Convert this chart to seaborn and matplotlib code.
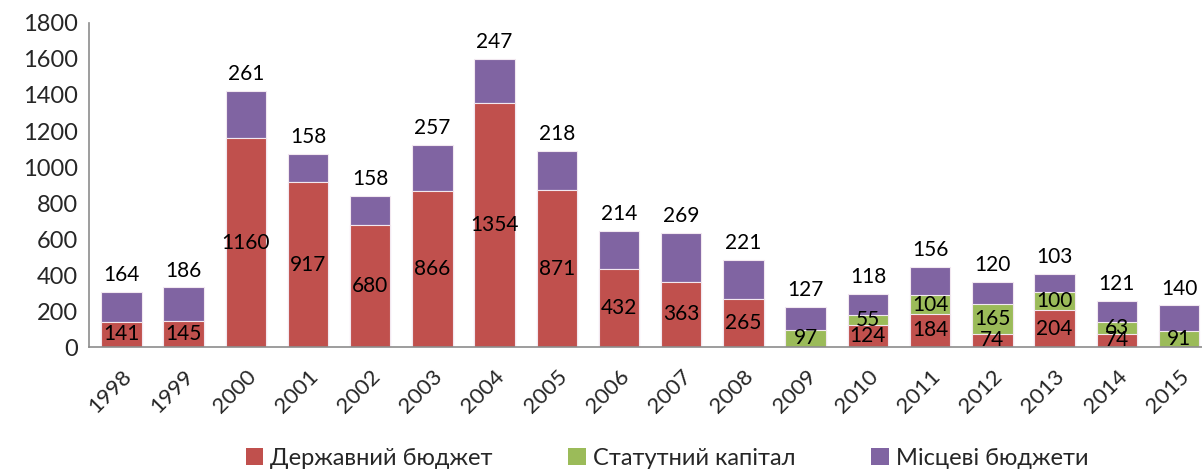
import matplotlib
matplotlib.use("Agg")
import matplotlib.pyplot as plt
import seaborn as sns
import pandas as pd
import numpy as np
from matplotlib.patches import Patch

years = ["1998", "1999", "2000", "2001", "2002", "2003", "2004", "2005", "2006",
         "2007", "2008", "2009", "2010", "2011", "2012", "2013", "2014", "2015"]
state_budget = [141, 145, 1160, 917, 680, 866, 1354, 871, 432, 363, 265, 0, 124, 184, 74, 204, 74, 0]
statutory_capital = [0, 0, 0, 0, 0, 0, 0, 0, 0, 0, 0, 97, 55, 104, 165, 100, 63, 91]
local_budgets = [164, 186, 261, 158, 158, 257, 247, 218, 214, 269, 221, 127, 118, 156, 120, 103, 121, 140]
series_names = ["Державний бюджет", "Статутний капітал", "Місцеві бюджети"]
colors = ["#C0504D", "#9BBB59", "#8064A2"]
yticks = [0, 200, 400, 600, 800, 1000, 1200, 1400, 1600, 1800]

sns.set_style("white")
plt.rcParams["font.family"] = ["Lato", "Open Sans", "DejaVu Sans"]

df = pd.DataFrame({"year": years, "red": state_budget, "green": statutory_capital, "purple": local_budgets})
df["l1"] = df["red"]
df["l2"] = df["red"] + df["green"]
df["l3"] = df["l2"] + df["purple"]

fig = plt.figure(figsize=(12.02, 4.69), dpi=100)
ax = fig.add_axes([0.074, 0.26, 0.926, 0.691])

w = 0.65
for col, c in [("l3", colors[2]), ("l2", colors[1]), ("l1", colors[0])]:
    sns.barplot(data=df, x="year", y=col, color=c, width=w, ax=ax,
                edgecolor="#F2E8F0", linewidth=0.8, saturation=1, order=years)

# labels
for i, yr in enumerate(years):
    r, g, p = state_budget[i], statutory_capital[i], local_budgets[i]
    if r > 0:
        ax.text(i, r / 2, str(r), ha="center", va="center", fontsize=15, color="black")
    if g > 0:
        ax.text(i, r + g / 2, str(g), ha="center", va="center", fontsize=15, color="black")
    if p > 0:
        ax.annotate(str(p), (i, r + g + p), xytext=(0, 5), textcoords="offset points",
                    ha="center", va="bottom", fontsize=15, color="black")

ax.set_ylim(0, 1800)
ax.set_xlim(-0.52, 17.37)
ax.set_yticks(yticks)
ax.set_yticklabels([str(t) for t in yticks], fontsize=17)
ax.set_xticks(range(len(years)))
ax.set_xticklabels(years, rotation=45, fontsize=16, ha="right", rotation_mode="anchor")
ax.tick_params(axis="x", length=0, pad=14)
ax.tick_params(axis="y", length=0, pad=8)
ax.set_xlabel("")
ax.set_ylabel("")
for s in ["top", "right"]:
    ax.spines[s].set_visible(False)
for s in ["left", "bottom"]:
    ax.spines[s].set_color("#8C8C8C")
    ax.spines[s].set_linewidth(1.2)

handles = [Patch(facecolor=c, edgecolor="none") for c in colors]
fig.legend(handles, series_names, loc="lower center", bbox_to_anchor=(0.555, -0.045), ncol=3,
           frameon=False, fontsize=17, handlelength=0.75, handleheight=0.75,
           handletextpad=0.3, columnspacing=3.2)

fig.savefig("out.png", dpi=100)
